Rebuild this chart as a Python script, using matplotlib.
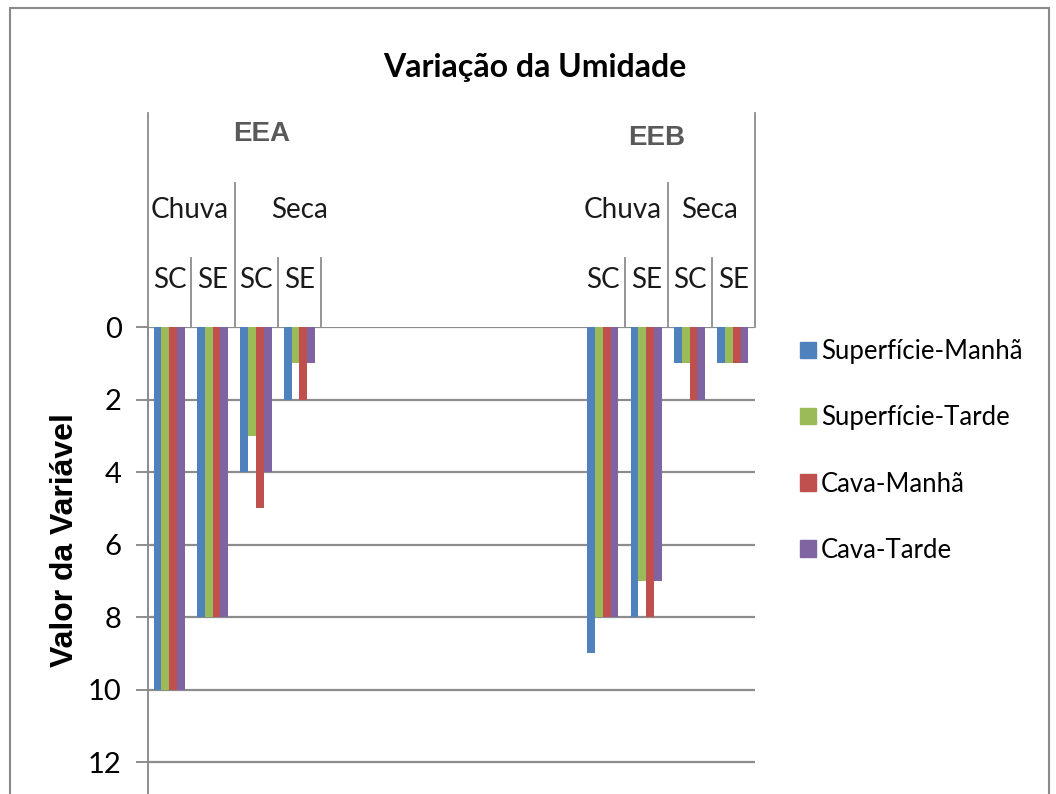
import numpy as np
import matplotlib.pyplot as plt
from matplotlib.patches import Rectangle

# data (empty slots between EEA and EEB)
slots = [0, 1, 2, 3, 10, 11, 12, 13]
sup_manha = [10, 8, 4, 2, 9, 8, 1, 1]
sup_tarde = [10, 8, 3, 1, 8, 7, 1, 1]
cava_manha = [10, 8, 5, 2, 8, 8, 2, 1]
cava_tarde = [10, 8, 4, 1, 8, 7, 2, 1]
series_names = ['Superfície-Manhã', 'Superfície-Tarde', 'Cava-Manhã', 'Cava-Tarde']
colors = ['#4F81BD', '#9BBB59', '#C0504D', '#8064A2']
sub_labels = ['SC', 'SE', 'SC', 'SE', 'SC', 'SE', 'SC', 'SE']

W, H = 1056, 794
fig = plt.figure(figsize=(W / 100, H / 100), dpi=100)

# plot area in pixels: x 148..755, y 327 (value 0) .. 762 (value 12)
px_per_unit = (762 - 327) / 12
ymax = 12.95
bottom_px = 327 + ymax * px_per_unit
ax = fig.add_axes([148 / W, 1 - bottom_px / H, (755 - 148) / W, (bottom_px - 327) / H])

gray = '#8c8c8c'
series = [sup_manha, sup_tarde, cava_manha, cava_tarde]
bw = 0.18
x = np.array(slots, dtype=float)
for i, (vals, c) in enumerate(zip(series, colors)):
    ax.bar(x + (i - 1.5) * bw - 0.01, vals, bw, color=c, zorder=3, label=series_names[i])

ax.set_xlim(-0.5, 13.5)
ax.set_ylim(ymax, 0)
for v in range(0, 13, 2):
    ax.axhline(v, color=gray, lw=1.6, zorder=1)
ax.set_yticks(range(0, 13, 2))
ax.set_xticks([])
for s in ['top', 'right', 'bottom']:
    ax.spines[s].set_visible(False)
ax.spines['left'].set_color(gray)
ax.spines['left'].set_linewidth(1.4)
ax.tick_params(axis='y', length=9, width=1.4, color=gray, pad=10, labelsize=21)
for t in ax.get_yticklabels():
    t.set_fontfamily('Lato')

ax.set_ylabel('Valor da Variável', fontsize=23, fontweight='bold',
               family='Liberation Sans')
ax.yaxis.set_label_coords(-0.112, 1 - (540 - 327) / (bottom_px - 327))

# multi-level category header above the plot
def to_y(py):
    return (py - 327) / px_per_unit

def vline(xv, top_px):
    ax.plot([xv, xv], [to_y(top_px), 0], color=gray, lw=1.3, clip_on=False, zorder=2)

vline(-0.5, 113)
vline(13.5, 113)
vline(1.5, 183)
vline(11.5, 183)
for xv in [0.5, 2.5, 3.5, 10.5, 12.5]:
    vline(xv, 258)

txt = dict(ha='center', va='center', fontsize=20, family='Lato', color='#1a1a1a')
for xv, lab in zip(slots, sub_labels):
    ax.text(xv, to_y(280), lab, **txt)
ax.text(0.47, to_y(210), 'Chuva', **txt)
ax.text(3.0, to_y(210), 'Seca', **txt)
ax.text(10.45, to_y(210), 'Chuva', **txt)
ax.text(12.46, to_y(210), 'Seca', **txt)
ax.text(2.13, to_y(134), 'EEA', ha='center', va='center', fontsize=20,
        fontweight='bold', family='Liberation Sans', color='#595959')
ax.text(11.24, to_y(138), 'EEB', ha='center', va='center', fontsize=20,
        fontweight='bold', family='Liberation Sans', color='#595959')

fig.text(535 / W, 1 - 68 / H, 'Variação da Umidade', ha='center', va='center',
         fontsize=23, fontweight='bold', family='Lato')

handles = [Rectangle((0, 0), 1, 1, color=c) for c in colors]
fig.legend(handles, series_names, loc='upper left',
           bbox_to_anchor=(790 / W, 1 - 329 / H), frameon=False, borderaxespad=0,
           prop={'family': 'Lato', 'size': 18.5}, handlelength=0.6,
           handleheight=0.6, handletextpad=0.2, labelspacing=1.6)

# outer chart border
fig.patches.append(Rectangle((10 / W, -0.02), (1049 - 10) / W, 1.02 - 8 / H,
                             transform=fig.transFigure, fill=False,
                             edgecolor='#8a8a8a', lw=1.5))

fig.savefig('out.png', dpi=100)
